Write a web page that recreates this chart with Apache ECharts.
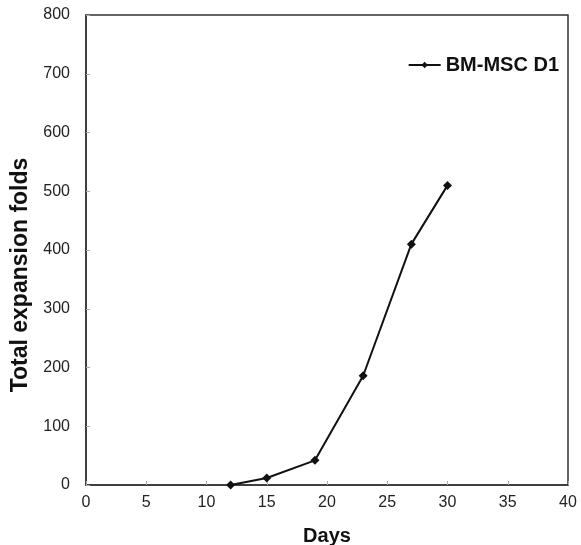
<!DOCTYPE html>
<html>
<head>
<meta charset="utf-8">
<script src="https://cdn.jsdelivr.net/npm/echarts@6/dist/echarts.min.js"></script>
<style>
  html, body { margin: 0; padding: 0; background: #fff; }
  #chart { width: 581px; height: 545px; }
</style>
</head>
<body>
<div id="chart"></div>
<script>
// Culture days and cumulative expansion folds
const days = [12, 15, 19, 23, 27, 30];
const expansionFolds = [0, 12, 42, 186, 410, 510];
const seriesName = 'BM-MSC D1';
const xAxisTitle = 'Days';
const yAxisTitle = 'Total expansion folds';

const points = days.map((d, i) => [d, expansionFolds[i]]);
const font = 'Liberation Sans, Arial, sans-serif';
const axisColor = '#333';

const chart = echarts.init(document.getElementById('chart'));
chart.setOption({
  animation: false,
  backgroundColor: '#fff',
  grid: { left: 86, right: 13, top: 15, bottom: 60, containLabel: false, outerBoundsMode: 'none',
          show: true, borderColor: axisColor, borderWidth: 1.5, backgroundColor: 'transparent' },
  legend: {
    right: 17, top: 50,
    itemWidth: 32, itemHeight: 8,
    itemGap: 4,
    textStyle: { fontFamily: font, fontSize: 20, fontWeight: 'bold', color: '#111' },
    data: [{ name: seriesName }]
  },
  xAxis: {
    type: 'value', min: 0, max: 40, interval: 5,
    name: xAxisTitle, nameLocation: 'middle', nameGap: 41,
    nameTextStyle: { fontFamily: font, fontSize: 20, fontWeight: 'bold', color: '#111' },
    axisLine: { show: true, onZero: false, lineStyle: { color: axisColor, width: 1.5 } },
    axisTick: { show: true, inside: true, length: 4, lineStyle: { color: '#aaa' } },
    axisLabel: { fontFamily: font, fontSize: 16, color: '#222', margin: 10 },
    splitLine: { show: false }
  },
  yAxis: {
    type: 'value', min: 0, max: 800, interval: 100,
    name: yAxisTitle, nameLocation: 'middle', nameGap: 52, nameRotate: 90,
    nameTextStyle: { fontFamily: font, fontSize: 23, fontWeight: 'bold', color: '#111',
                     padding: [0, 50, 0, 0] },
    axisLine: { show: true, lineStyle: { color: axisColor, width: 1.5 } },
    axisTick: { show: true, inside: true, length: 4, lineStyle: { color: '#aaa' } },
    axisLabel: { fontFamily: font, fontSize: 16, color: '#222', margin: 16 },
    splitLine: { show: false }
  },
  series: [{
    name: seriesName,
    type: 'line',
    data: points,
    symbol: 'diamond',
    symbolSize: 9,
    itemStyle: { color: '#111' },
    lineStyle: { color: '#111', width: 2 }
  }]
});
</script>
</body>
</html>
